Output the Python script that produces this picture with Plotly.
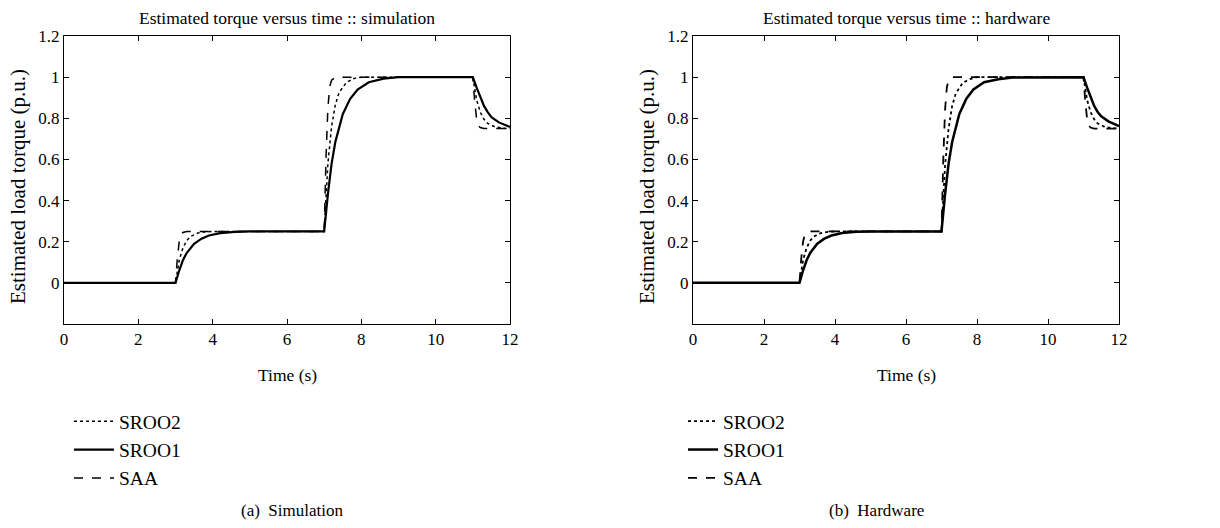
import plotly.graph_objects as go

# ---- data ----
# simulation
t_saa = [0, 3.0, 3.05, 3.1, 3.15, 3.2, 3.3, 7.0, 7.05, 7.1, 7.15, 7.2, 7.3, 11.0, 11.05, 11.1, 11.15, 11.2, 11.3, 12.0]
y_saa = [0, 0, 0.12, 0.2, 0.235, 0.245, 0.25, 0.25, 0.61, 0.85, 0.955, 0.985, 1.0, 1.0, 0.88, 0.80, 0.765, 0.755, 0.75, 0.75]

t_sroo2 = [0, 3.0, 3.1, 3.2, 3.3, 3.4, 3.6, 3.8, 4.0, 7.0, 7.1, 7.2, 7.3, 7.4, 7.6, 7.8, 8.0, 11.0, 11.1, 11.2, 11.3, 11.4, 11.6, 11.8, 12.0]
y_sroo2 = [0, 0, 0.11, 0.17, 0.205, 0.225, 0.242, 0.248, 0.25, 0.25, 0.58, 0.76, 0.865, 0.925, 0.975, 0.993, 1.0, 1.0, 0.89, 0.83, 0.795, 0.775, 0.758, 0.752, 0.75]

t_sroo1 = [0, 3.0, 3.1, 3.2, 3.3, 3.4, 3.5, 3.7, 3.9, 4.2, 4.6, 5.0, 7.0, 7.1, 7.2, 7.3, 7.4, 7.5, 7.7, 7.9, 8.2, 8.6, 9.0, 11.0, 11.1, 11.2, 11.3, 11.4, 11.5, 11.7, 11.9, 12.0]
y_sroo1 = [0, 0, 0.06, 0.11, 0.145, 0.17, 0.19, 0.215, 0.23, 0.242, 0.248, 0.25, 0.25, 0.43, 0.58, 0.685, 0.76, 0.82, 0.895, 0.94, 0.975, 0.993, 1.0, 1.0, 0.95, 0.9, 0.86, 0.83, 0.805, 0.78, 0.765, 0.758]

# hardware
th_saa = [0, 3.0, 3.05, 3.1, 3.15, 3.2, 3.3, 7.0, 7.05, 7.1, 7.15, 7.2, 7.3, 11.0, 11.05, 11.1, 11.15, 11.2, 11.3, 12.0]
yh_saa = [0, 0, 0.12, 0.2, 0.235, 0.245, 0.25, 0.25, 0.6, 0.84, 0.95, 0.985, 1.0, 1.0, 0.88, 0.80, 0.765, 0.755, 0.75, 0.75]

th_sroo2 = [0, 3.0, 3.1, 3.2, 3.3, 3.4, 3.6, 3.8, 4.0, 7.0, 7.1, 7.2, 7.3, 7.4, 7.6, 7.8, 8.0, 11.0, 11.1, 11.2, 11.3, 11.4, 11.6, 11.8, 12.0]
yh_sroo2 = [0, 0, 0.11, 0.17, 0.205, 0.225, 0.242, 0.248, 0.25, 0.25, 0.57, 0.75, 0.86, 0.92, 0.972, 0.99, 1.0, 1.0, 0.89, 0.83, 0.795, 0.775, 0.758, 0.752, 0.75]

th_sroo1 = [0, 3.0, 3.1, 3.2, 3.3, 3.4, 3.5, 3.7, 3.9, 4.2, 4.6, 5.0, 7.0, 7.1, 7.2, 7.3, 7.4, 7.5, 7.7, 7.9, 8.2, 8.6, 9.0, 11.0, 11.1, 11.2, 11.3, 11.4, 11.5, 11.7, 11.9, 12.0]
yh_sroo1 = [0, 0, 0.06, 0.11, 0.145, 0.17, 0.19, 0.215, 0.23, 0.242, 0.248, 0.25, 0.25, 0.43, 0.58, 0.685, 0.76, 0.82, 0.895, 0.94, 0.975, 0.99, 0.998, 1.0, 0.95, 0.9, 0.86, 0.83, 0.81, 0.785, 0.77, 0.762]

x_ticks = [0, 2, 4, 6, 8, 10, 12]
y_ticks = [0, 0.2, 0.4, 0.6, 0.8, 1.0, 1.2]
y_tick_text = ["0", "0.2", "0.4", "0.6", "0.8", "1", "1.2"]

series_names = ["SROO2", "SROO1", "SAA"]
titles = ["Estimated torque versus time :: simulation", "Estimated torque versus time :: hardware"]
captions = ["(a)  Simulation", "(b)  Hardware"]
x_title = "Time (s)"
y_title = "Estimated load torque (p.u.)"

FONT = "Liberation Serif"
W, H = 1220, 528

fig = go.Figure()

sim = [(t_sroo2, y_sroo2), (t_sroo1, y_sroo1), (t_saa, y_saa)]
hw = [(th_sroo2, yh_sroo2), (th_sroo1, yh_sroo1), (th_saa, yh_saa)]
styles = [dict(color="black", width=1.5, dash="dot"),
          dict(color="black", width=2.2, dash="solid"),
          dict(color="black", width=1.5, dash="dash")]
styles_hw = [dict(color="black", width=1.8, dash="dot"),
             dict(color="black", width=2.5, dash="solid"),
             dict(color="black", width=1.8, dash="dash")]

for i, (data, sty, xa, ya, lg) in enumerate([(sim, styles, "x", "y", "legend"), (hw, styles_hw, "x2", "y2", "legend2")]):
    for name, (tx, ty), ln in zip(series_names, data, sty):
        fig.add_trace(go.Scatter(x=tx, y=ty, mode="lines", name=name, line=ln,
                                 xaxis=xa, yaxis=ya, legend=lg, legendgroup=name + str(i)))

axis_common = dict(showline=True, linecolor="black", linewidth=1, mirror="allticks",
                   ticks="inside", ticklen=5, tickcolor="black", showgrid=False,
                   zeroline=False, tickfont=dict(family=FONT, size=17, color="black"))

ytop, ybot = 1 - 36 / H, 1 - 324 / H
dom1 = [64 / W, 510 / W]
dom2 = [693 / W, 1119 / W]

leg_common = dict(xanchor="left", yanchor="top", bgcolor="rgba(0,0,0,0)",
                  font=dict(family=FONT, size=19.5), tracegroupgap=0)

fig.update_layout(
    width=W, height=H, margin=dict(l=0, r=0, t=0, b=0, autoexpand=False),
    paper_bgcolor="white", plot_bgcolor="white",
    font=dict(family=FONT, color="black"),
    xaxis=dict(domain=dom1, range=[0, 12], tickvals=x_ticks, anchor="y", **axis_common),
    yaxis=dict(domain=[ybot, ytop], range=[-0.2, 1.2], tickvals=y_ticks, ticktext=y_tick_text, anchor="x", **axis_common),
    xaxis2=dict(domain=dom2, range=[0, 12], tickvals=x_ticks, anchor="y2", **axis_common),
    yaxis2=dict(domain=[ybot, ytop], range=[-0.2, 1.2], tickvals=y_ticks, ticktext=y_tick_text, anchor="x2", **axis_common),
    legend=dict(x=69 / W, y=1 - 402 / H, itemwidth=40, **leg_common),
    legend2=dict(x=683 / W, y=1 - 402 / H, itemwidth=30, **leg_common),
    showlegend=True,
)

ann = []
for dom, title, ylab_x in [(dom1, titles[0], 18), (dom2, titles[1], 647)]:
    cx = (dom[0] + dom[1]) / 2
    ann.append(dict(text=title, x=cx, y=1 - 18 / H, xanchor="center", yanchor="middle",
                    font=dict(family=FONT, size=17.5)))
    ann.append(dict(text=x_title, x=cx, y=1 - 375 / H, xanchor="center", yanchor="middle",
                    font=dict(family=FONT, size=17.5)))
    ann.append(dict(text=y_title, x=ylab_x / W, y=1 - 187 / H, xanchor="center", yanchor="middle",
                    textangle=-90, font=dict(family=FONT, size=21)))
ann.append(dict(text=captions[0], x=292 / W, y=1 - 510 / H, xanchor="center", yanchor="middle",
                font=dict(family=FONT, size=17)))
ann.append(dict(text=captions[1], x=876 / W, y=1 - 510 / H, xanchor="center", yanchor="middle",
                font=dict(family=FONT, size=17)))
for a in ann:
    a.update(xref="paper", yref="paper", showarrow=False)
fig.update_layout(annotations=ann)

fig.write_html("out.html")
